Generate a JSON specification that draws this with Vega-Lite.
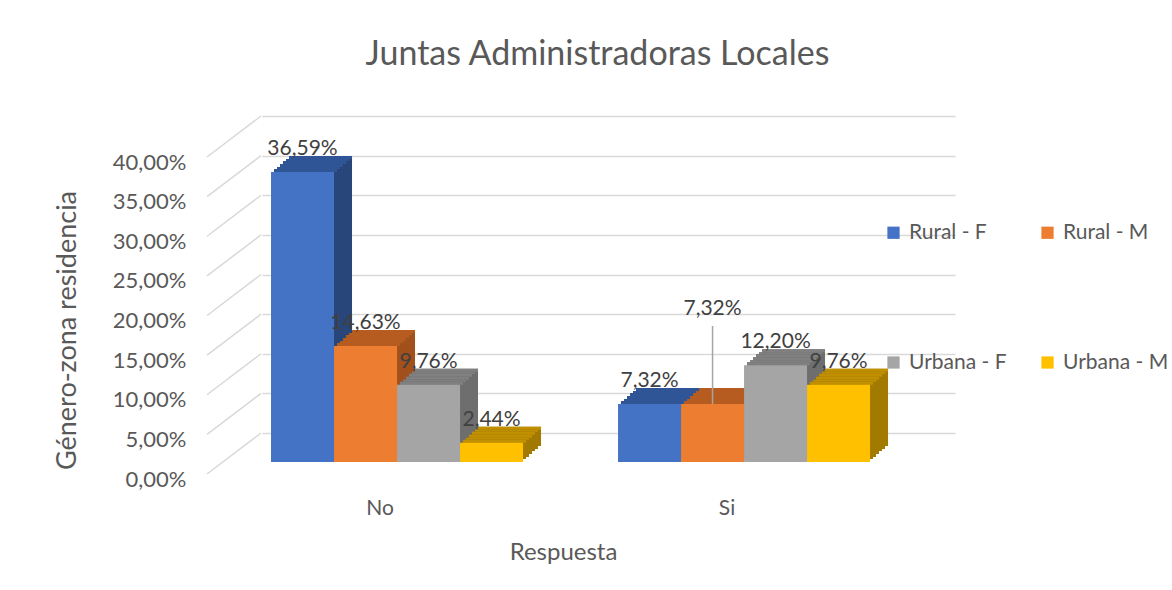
{
  "$schema": "https://vega.github.io/schema/vega-lite/v6.json",
  "width": 693,
  "height": 317,
  "autosize": {"type": "none"},
  "padding": {"left": 262, "top": 145, "right": 217, "bottom": 128},
  "background": "white",
  "title": {
    "text": "Juntas Administradoras Locales",
    "fontSize": 34,
    "font": "Lato",
    "fontWeight": "normal",
    "color": "#595959",
    "anchor": "middle",
    "dx": -11,
    "offset": 43
  },
  "datasets": {
    "bars": [
      {"Respuesta": "No", "Serie": "Rural - F", "value": 0.3659},
      {"Respuesta": "No", "Serie": "Rural - M", "value": 0.1463},
      {"Respuesta": "No", "Serie": "Urbana - F", "value": 0.0976},
      {"Respuesta": "No", "Serie": "Urbana - M", "value": 0.0244},
      {"Respuesta": "Si", "Serie": "Rural - F", "value": 0.0732},
      {"Respuesta": "Si", "Serie": "Rural - M", "value": 0.0732},
      {"Respuesta": "Si", "Serie": "Urbana - F", "value": 0.1220},
      {"Respuesta": "Si", "Serie": "Urbana - M", "value": 0.0976}
    ],
    "grid": [
      {"g": 0}, {"g": 0.05}, {"g": 0.1}, {"g": 0.15}, {"g": 0.2},
      {"g": 0.25}, {"g": 0.3}, {"g": 0.35}, {"g": 0.4}
    ]
  },
  "data": {"name": "bars"},
  "layer": [
    {
      "mark": {"type": "bar", "yOffset": -16, "y2Offset": -16},
      "encoding": {
        "x": {
          "field": "Respuesta", "type": "nominal",
          "scale": {"paddingInner": 0.2738, "paddingOuter": 0.1354, "align": 0.096},
          "axis": {
            "title": "Respuesta",
            "labelAngle": 0,
            "labelOffset": -17,
            "labelPadding": 35,
            "labelFontSize": 21,
            "labelFont": "Lato",
            "labelColor": "#595959",
            "ticks": false,
            "domain": false,
            "titleFontSize": 24,
            "titleFont": "Lato",
            "titleFontWeight": "normal",
            "titleColor": "#595959",
            "titleX": 301,
            "titleY": 90,
            "titleBaseline": "middle",
            "titleAlign": "center"
          }
        },
        "xOffset": {"field": "Serie", "type": "nominal", "scale": {"domain": ["Rural - F", "Rural - M", "Urbana - F", "Urbana - M"], "range": [18, 270]}},
        "y": {
          "field": "value", "type": "quantitative",
          "scale": {"domain": [0, 0.4], "nice": false},
          "axis": {
            "title": "Género-zona residencia",
            "format": ".2%",
            "tickCount": 9,
            "values": [0, 0.05, 0.1, 0.15, 0.2, 0.25, 0.3, 0.35, 0.4],
            "labelOverlap": false,
            "tickOffset": -29,
            "labelOffset": 46,
            "labelPadding": 76,
            "labelFontSize": 22,
            "labelFont": "Lato",
            "labelColor": "#595959",
            "labelBaseline": "middle",
            "ticks": false,
            "domain": false,
            "grid": true,
            "gridColor": "#D9D9D9",
            "gridWidth": 1.5,
            "titleFontSize": 27,
            "titleFont": "Lato",
            "titleFontWeight": "normal",
            "titleColor": "#595959",
            "titleAngle": 270,
            "titleX": -195,
            "titleY": 185,
            "titleBaseline": "middle",
            "titleAlign": "center"
          }
        },
        "color": {
          "field": "Serie", "type": "nominal",
          "scale": {"domain": ["Rural - F", "Rural - M", "Urbana - F", "Urbana - M"], "range": ["#284679", "#A3511C", "#6E6E6E", "#A27A00"]},
          "legend": null
        }
      }
    },
    {
      "data": {"name": "grid"},
      "mark": {"type": "rule", "color": "#D9D9D9", "strokeWidth": 1.5, "xOffset": -64, "x2Offset": -136, "yOffset": 12, "y2Offset": -29},
      "encoding": {
        "x": {"datum": "No", "bandPosition": 0},
        "x2": {"datum": "No"},
        "y": {"field": "g", "type": "quantitative"},
        "y2": {"field": "g"}
      }
    },
    {
      "mark": {"type": "bar", "yOffset": -16, "y2Offset": -13},
      "encoding": {
        "x": {"field": "Respuesta", "type": "nominal"},
        "xOffset": {"field": "Serie", "type": "nominal", "scale": {"domain": ["Rural - F", "Rural - M", "Urbana - F", "Urbana - M"], "range": [18, 270]}},
        "y": {"field": "value", "type": "quantitative"},
        "y2": {"field": "value"},
        "color": {"field": "Serie", "type": "nominal", "scale": {"domain": ["Rural - F", "Rural - M", "Urbana - F", "Urbana - M"], "range": ["#2F5597", "#B65C21", "#808080", "#C09000"]}, "legend": null}
      }
    },
    {
      "mark": {"type": "bar", "yOffset": -13, "y2Offset": -13},
      "encoding": {
        "x": {"field": "Respuesta", "type": "nominal"},
        "xOffset": {"field": "Serie", "type": "nominal", "scale": {"domain": ["Rural - F", "Rural - M", "Urbana - F", "Urbana - M"], "range": [15, 267]}},
        "y": {"field": "value", "type": "quantitative"},
        "color": {"field": "Serie", "type": "nominal", "scale": {"domain": ["Rural - F", "Rural - M", "Urbana - F", "Urbana - M"], "range": ["#284679", "#A3511C", "#6E6E6E", "#A27A00"]}, "legend": null}
      }
    },
    {
      "mark": {"type": "bar", "yOffset": -13, "y2Offset": -11},
      "encoding": {
        "x": {"field": "Respuesta", "type": "nominal"},
        "xOffset": {"field": "Serie", "type": "nominal", "scale": {"domain": ["Rural - F", "Rural - M", "Urbana - F", "Urbana - M"], "range": [15, 267]}},
        "y": {"field": "value", "type": "quantitative"},
        "y2": {"field": "value"},
        "color": {"field": "Serie", "type": "nominal", "scale": {"domain": ["Rural - F", "Rural - M", "Urbana - F", "Urbana - M"], "range": ["#2F5597", "#B65C21", "#808080", "#C09000"]}, "legend": null}
      }
    },
    {
      "mark": {"type": "bar", "yOffset": -11, "y2Offset": -11},
      "encoding": {
        "x": {"field": "Respuesta", "type": "nominal"},
        "xOffset": {"field": "Serie", "type": "nominal", "scale": {"domain": ["Rural - F", "Rural - M", "Urbana - F", "Urbana - M"], "range": [12, 264]}},
        "y": {"field": "value", "type": "quantitative"},
        "color": {"field": "Serie", "type": "nominal", "scale": {"domain": ["Rural - F", "Rural - M", "Urbana - F", "Urbana - M"], "range": ["#284679", "#A3511C", "#6E6E6E", "#A27A00"]}, "legend": null}
      }
    },
    {
      "mark": {"type": "bar", "yOffset": -11, "y2Offset": -8},
      "encoding": {
        "x": {"field": "Respuesta", "type": "nominal"},
        "xOffset": {"field": "Serie", "type": "nominal", "scale": {"domain": ["Rural - F", "Rural - M", "Urbana - F", "Urbana - M"], "range": [12, 264]}},
        "y": {"field": "value", "type": "quantitative"},
        "y2": {"field": "value"},
        "color": {"field": "Serie", "type": "nominal", "scale": {"domain": ["Rural - F", "Rural - M", "Urbana - F", "Urbana - M"], "range": ["#2F5597", "#B65C21", "#808080", "#C09000"]}, "legend": null}
      }
    },
    {
      "mark": {"type": "bar", "yOffset": -8, "y2Offset": -8},
      "encoding": {
        "x": {"field": "Respuesta", "type": "nominal"},
        "xOffset": {"field": "Serie", "type": "nominal", "scale": {"domain": ["Rural - F", "Rural - M", "Urbana - F", "Urbana - M"], "range": [9, 261]}},
        "y": {"field": "value", "type": "quantitative"},
        "color": {"field": "Serie", "type": "nominal", "scale": {"domain": ["Rural - F", "Rural - M", "Urbana - F", "Urbana - M"], "range": ["#284679", "#A3511C", "#6E6E6E", "#A27A00"]}, "legend": null}
      }
    },
    {
      "mark": {"type": "bar", "yOffset": -8, "y2Offset": -5},
      "encoding": {
        "x": {"field": "Respuesta", "type": "nominal"},
        "xOffset": {"field": "Serie", "type": "nominal", "scale": {"domain": ["Rural - F", "Rural - M", "Urbana - F", "Urbana - M"], "range": [9, 261]}},
        "y": {"field": "value", "type": "quantitative"},
        "y2": {"field": "value"},
        "color": {"field": "Serie", "type": "nominal", "scale": {"domain": ["Rural - F", "Rural - M", "Urbana - F", "Urbana - M"], "range": ["#2F5597", "#B65C21", "#808080", "#C09000"]}, "legend": null}
      }
    },
    {
      "mark": {"type": "bar", "yOffset": -5, "y2Offset": -5},
      "encoding": {
        "x": {"field": "Respuesta", "type": "nominal"},
        "xOffset": {"field": "Serie", "type": "nominal", "scale": {"domain": ["Rural - F", "Rural - M", "Urbana - F", "Urbana - M"], "range": [6, 258]}},
        "y": {"field": "value", "type": "quantitative"},
        "color": {"field": "Serie", "type": "nominal", "scale": {"domain": ["Rural - F", "Rural - M", "Urbana - F", "Urbana - M"], "range": ["#284679", "#A3511C", "#6E6E6E", "#A27A00"]}, "legend": null}
      }
    },
    {
      "mark": {"type": "bar", "yOffset": -5, "y2Offset": -3},
      "encoding": {
        "x": {"field": "Respuesta", "type": "nominal"},
        "xOffset": {"field": "Serie", "type": "nominal", "scale": {"domain": ["Rural - F", "Rural - M", "Urbana - F", "Urbana - M"], "range": [6, 258]}},
        "y": {"field": "value", "type": "quantitative"},
        "y2": {"field": "value"},
        "color": {"field": "Serie", "type": "nominal", "scale": {"domain": ["Rural - F", "Rural - M", "Urbana - F", "Urbana - M"], "range": ["#2F5597", "#B65C21", "#808080", "#C09000"]}, "legend": null}
      }
    },
    {
      "mark": {"type": "bar", "yOffset": -3, "y2Offset": -3},
      "encoding": {
        "x": {"field": "Respuesta", "type": "nominal"},
        "xOffset": {"field": "Serie", "type": "nominal", "scale": {"domain": ["Rural - F", "Rural - M", "Urbana - F", "Urbana - M"], "range": [3, 255]}},
        "y": {"field": "value", "type": "quantitative"},
        "color": {"field": "Serie", "type": "nominal", "scale": {"domain": ["Rural - F", "Rural - M", "Urbana - F", "Urbana - M"], "range": ["#284679", "#A3511C", "#6E6E6E", "#A27A00"]}, "legend": null}
      }
    },
    {
      "mark": {"type": "bar", "yOffset": -3, "y2Offset": 0},
      "encoding": {
        "x": {"field": "Respuesta", "type": "nominal"},
        "xOffset": {"field": "Serie", "type": "nominal", "scale": {"domain": ["Rural - F", "Rural - M", "Urbana - F", "Urbana - M"], "range": [3, 255]}},
        "y": {"field": "value", "type": "quantitative"},
        "y2": {"field": "value"},
        "color": {"field": "Serie", "type": "nominal", "scale": {"domain": ["Rural - F", "Rural - M", "Urbana - F", "Urbana - M"], "range": ["#2F5597", "#B65C21", "#808080", "#C09000"]}, "legend": null}
      }
    },
    {
      "mark": {"type": "bar"},
      "encoding": {
        "x": {"field": "Respuesta", "type": "nominal"},
        "xOffset": {"field": "Serie", "type": "nominal", "scale": {"domain": ["Rural - F", "Rural - M", "Urbana - F", "Urbana - M"]}},
        "y": {"field": "value", "type": "quantitative"},
        "color": {
          "field": "Serie", "type": "nominal",
          "scale": {"domain": ["Rural - F", "Rural - M", "Urbana - F", "Urbana - M"], "range": ["#4472C4", "#ED7D31", "#A5A5A5", "#FFC000"]},
          "legend": {
            "title": null,
            "orient": "none",
            "legendX": 621,
            "legendY": 77,
            "direction": "horizontal",
            "columns": 2,
            "columnPadding": 30,
            "rowPadding": 108,
            "symbolType": "square",
            "symbolSize": 150,
            "symbolStrokeWidth": 0,
            "symbolOpacity": 1,
            "labelFontSize": 21,
            "labelFont": "Lato",
            "labelColor": "#595959",
            "labelOffset": 5
          }
        }
      }
    },
    {
      "transform": [{"filter": "!(datum.Respuesta == 'Si' && datum.Serie == 'Rural - M')"}],
      "mark": {"type": "text", "dy": -17, "baseline": "alphabetic", "fontSize": 21, "font": "Lato", "color": "#404040"},
      "encoding": {
        "x": {"field": "Respuesta", "type": "nominal"},
        "xOffset": {"field": "Serie", "type": "nominal", "scale": {"domain": ["Rural - F", "Rural - M", "Urbana - F", "Urbana - M"]}},
        "y": {"field": "value", "type": "quantitative"},
        "text": {"field": "value", "type": "quantitative", "format": ".2%"}
      }
    },
    {
      "transform": [{"filter": "datum.Respuesta == 'Si' && datum.Serie == 'Rural - M'"}],
      "mark": {"type": "rule", "y2Offset": -78, "color": "#A5A5A5", "strokeWidth": 1.5},
      "encoding": {
        "x": {"field": "Respuesta", "type": "nominal"},
        "xOffset": {"field": "Serie", "type": "nominal", "scale": {"domain": ["Rural - F", "Rural - M", "Urbana - F", "Urbana - M"]}},
        "y": {"field": "value", "type": "quantitative"},
        "y2": {"field": "value"}
      }
    },
    {
      "transform": [{"filter": "datum.Respuesta == 'Si' && datum.Serie == 'Rural - M'"}],
      "mark": {"type": "text", "dy": -89, "baseline": "alphabetic", "fontSize": 21, "font": "Lato", "color": "#404040"},
      "encoding": {
        "x": {"field": "Respuesta", "type": "nominal"},
        "xOffset": {"field": "Serie", "type": "nominal", "scale": {"domain": ["Rural - F", "Rural - M", "Urbana - F", "Urbana - M"]}},
        "y": {"field": "value", "type": "quantitative"},
        "text": {"field": "value", "type": "quantitative", "format": ".2%"}
      }
    }
  ],
  "resolve": {"scale": {"color": "independent", "xOffset": "independent"}},
  "config": {
    "view": {"stroke": null},
    "locale": {"number": {"decimal": ",", "thousands": ".", "grouping": [3], "currency": ["", " €"]}}
  }
}
